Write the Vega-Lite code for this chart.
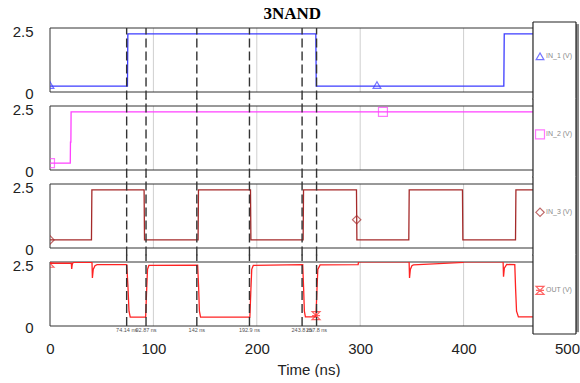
{
"$schema":"https://vega.github.io/schema/vega-lite/v6.json",
"background":"white",
"padding":{"left":5,"top":5,"right":0,"bottom":0},
"title":{"text":"3NAND","font":"Liberation Serif","fontSize":17,"fontWeight":"bold","color":"#000","anchor":"middle","offset":-2},
"config":{"view":{"stroke":null},"font":"Liberation Sans"},
"spacing":14,
"bounds":"flush",
"datasets":{
"grid":[{"t":100},{"t":200},{"t":300},{"t":400}],
"cursors":[{"t":74.14,"label":"74.14 ns"},{"t":92.87,"label":"92.87 ns"},{"t":142,"label":"142 ns"},{"t":192.9,"label":"192.9 ns"},{"t":243.8,"label":"243.8 ns"},{"t":257.8,"label":"257.8 ns"}],
"in1":[{"t":0,"v":0.24},{"t":74.9,"v":0.24},{"t":75.3,"v":2.36},{"t":257.1,"v":2.36},{"t":257.5,"v":0.24},{"t":438.9,"v":0.24},{"t":439.3,"v":2.36},{"t":500,"v":2.36}],
"in2":[{"t":0,"v":0.28},{"t":19.6,"v":0.28},{"t":19.8,"v":1.13},{"t":20.2,"v":1.13},{"t":20.4,"v":2.36},{"t":500,"v":2.36}],
"in3":[{"t":0,"v":0.33},{"t":40.1,"v":0.33},{"t":40.5,"v":2.36},{"t":91,"v":2.36},{"t":91.4,"v":0.33},{"t":143.2,"v":0.33},{"t":143.6,"v":2.36},{"t":193.9,"v":2.36},{"t":194.3,"v":0.33},{"t":244.8,"v":0.33},{"t":245.2,"v":2.36},{"t":296.4,"v":2.36},{"t":296.8,"v":0.33},{"t":347,"v":0.33},{"t":347.4,"v":2.36},{"t":398.9,"v":2.36},{"t":399.3,"v":0.33},{"t":450.2,"v":0.33},{"t":450.6,"v":2.36},{"t":500,"v":2.36}],
"out":[{"t":0,"v":2.55},{"t":20.6,"v":2.55},{"t":21,"v":2.32},{"t":21.5,"v":2.5},{"t":22.5,"v":2.59},{"t":40.6,"v":2.59},{"t":41,"v":1.95},{"t":41.8,"v":2.3},{"t":43.5,"v":2.45},{"t":45.5,"v":2.49},{"t":74.2,"v":2.49},{"t":75.4,"v":1.6},{"t":76.4,"v":0.6},{"t":77.6,"v":0.36},{"t":92.5,"v":0.36},{"t":93.5,"v":1.5},{"t":94.3,"v":2.3},{"t":95.6,"v":2.46},{"t":142.8,"v":2.47},{"t":143.8,"v":1.5},{"t":144.5,"v":0.6},{"t":145.6,"v":0.36},{"t":193.3,"v":0.36},{"t":194.3,"v":1.5},{"t":195.1,"v":2.3},{"t":196.6,"v":2.46},{"t":244.4,"v":2.49},{"t":245.3,"v":1.5},{"t":246,"v":0.6},{"t":247,"v":0.37},{"t":257.2,"v":0.37},{"t":258.2,"v":1.5},{"t":259,"v":2.3},{"t":261.2,"v":2.48},{"t":298,"v":2.49},{"t":298.4,"v":2.61},{"t":347.3,"v":2.61},{"t":347.7,"v":1.95},{"t":348.5,"v":2.3},{"t":350,"v":2.45},{"t":351.5,"v":2.48},{"t":399.5,"v":2.58},{"t":399.9,"v":2.61},{"t":438.2,"v":2.61},{"t":438.6,"v":2.0},{"t":439.4,"v":2.35},{"t":441.7,"v":2.5},{"t":449.5,"v":2.49},{"t":450.3,"v":1.5},{"t":451.2,"v":0.6},{"t":453,"v":0.37},{"t":500,"v":0.37}]
},
"vconcat":[
{"width":517,"height":64,"layer":[
 {"data":{"name":"grid"},"mark":{"type":"rule","color":"#cfcfcf","strokeWidth":1},"encoding":{"x":{"field":"t","type":"quantitative"},"y":{"datum":0,"type":"quantitative"},"y2":{"datum":2.6}}},
 {"data":{"values":[{}]},"mark":{"type":"rect","filled":false,"stroke":"#333","strokeWidth":1},"encoding":{"x":{"datum":0,"type":"quantitative"},"x2":{"datum":500},"y":{"datum":0,"type":"quantitative"},"y2":{"datum":2.6}}},
 {"data":{"name":"in1"},"mark":{"type":"line","color":"#3c3cff","strokeWidth":1.3,"clip":true},"encoding":{"x":{"field":"t","type":"quantitative","scale":{"domain":[0,500],"nice":false,"zero":false},"axis":{"labels":false,"ticks":false,"domain":false,"grid":false,"title":null}},"y":{"field":"v","type":"quantitative","scale":{"domain":[0,2.6],"nice":false,"zero":false},"axis":{"values":[0,2.5],"format":".1~f","title":null,"grid":false,"ticks":false,"domain":false,"labelFontSize":15,"labelColor":"#222","labelPadding":17,"labelOffset":1,"minExtent":45,"maxExtent":45,"labelFont":"Liberation Sans"}}}},
 {"data":{"values":[{"t":0,"v":0.28},{"t":316.2,"v":0.28}]},"mark":{"type":"point","shape":"triangle-up","filled":false,"color":"#3c3cff","size":60,"strokeWidth":1.2,"clip":true},"encoding":{"x":{"field":"t","type":"quantitative"},"y":{"field":"v","type":"quantitative"}}},
 {"data":{"name":"cursors"},"mark":{"type":"rule","color":"#333","strokeWidth":1.4,"strokeDash":[9,4]},"encoding":{"x":{"field":"t","type":"quantitative"},"y":{"datum":-0.3,"type":"quantitative"},"y2":{"datum":2.6}}},
 {"data":{"values":[{}]},"mark":{"type":"rect","color":"#8a8a8a"},"encoding":{"x":{"datum":508.7,"type":"quantitative"},"x2":{"datum":511.6},"y":{"datum":-0.3,"type":"quantitative"},"y2":{"datum":2.76}}},
 {"data":{"values":[{}]},"mark":{"type":"rect","color":"white"},"encoding":{"x":{"datum":467.1,"type":"quantitative"},"x2":{"datum":508.7},"y":{"datum":-0.3,"type":"quantitative"},"y2":{"datum":2.844}}},
 {"data":{"values":[{}]},"mark":{"type":"rule","color":"#222","strokeWidth":1.2},"encoding":{"x":{"datum":467.1,"type":"quantitative"},"y":{"datum":-0.3,"type":"quantitative"},"y2":{"datum":2.844}}},
 {"data":{"values":[{}]},"mark":{"type":"rule","color":"#222","strokeWidth":1.2},"encoding":{"x":{"datum":508.7,"type":"quantitative"},"y":{"datum":-0.3,"type":"quantitative"},"y2":{"datum":2.844}}},
 {"data":{"values":[{}]},"mark":{"type":"rule","color":"#222","strokeWidth":1.2},"encoding":{"x":{"datum":467.1,"type":"quantitative"},"x2":{"datum":508.7},"y":{"datum":2.844,"type":"quantitative"}}},
 {"data":{"values":[{}]},"mark":{"type":"point","shape":"triangle-up","filled":false,"color":"#3c3cff","size":60,"strokeWidth":1.2},"encoding":{"x":{"datum":473.9,"type":"quantitative"},"y":{"datum":1.45,"type":"quantitative"}}},
 {"data":{"values":[{}]},"mark":{"type":"text","text":"IN_1 (V)","align":"left","baseline":"middle","fontSize":7,"color":"#8a8a8a"},"encoding":{"x":{"datum":479.7,"type":"quantitative"},"y":{"datum":1.45,"type":"quantitative"}}}
]},
{"width":517,"height":64,"layer":[
 {"data":{"name":"grid"},"mark":{"type":"rule","color":"#cfcfcf","strokeWidth":1},"encoding":{"x":{"field":"t","type":"quantitative"},"y":{"datum":0,"type":"quantitative"},"y2":{"datum":2.6}}},
 {"data":{"values":[{}]},"mark":{"type":"rect","filled":false,"stroke":"#333","strokeWidth":1},"encoding":{"x":{"datum":0,"type":"quantitative"},"x2":{"datum":500},"y":{"datum":0,"type":"quantitative"},"y2":{"datum":2.6}}},
 {"data":{"name":"in2"},"mark":{"type":"line","color":"#ff40ff","strokeWidth":1.3,"clip":true},"encoding":{"x":{"field":"t","type":"quantitative","scale":{"domain":[0,500],"nice":false,"zero":false},"axis":{"labels":false,"ticks":false,"domain":false,"grid":false,"title":null}},"y":{"field":"v","type":"quantitative","scale":{"domain":[0,2.6],"nice":false,"zero":false},"axis":{"values":[0,2.5],"format":".1~f","title":null,"grid":false,"ticks":false,"domain":false,"labelFontSize":15,"labelColor":"#222","labelPadding":17,"labelOffset":1,"minExtent":45,"maxExtent":45,"labelFont":"Liberation Sans"}}}},
 {"data":{"values":[{"t":0,"v":0.28},{"t":322,"v":2.36}]},"mark":{"type":"point","shape":"square","filled":false,"color":"#ff40ff","size":80,"strokeWidth":1.2,"clip":true},"encoding":{"x":{"field":"t","type":"quantitative"},"y":{"field":"v","type":"quantitative"}}},
 {"data":{"name":"cursors"},"mark":{"type":"rule","color":"#333","strokeWidth":1.4,"strokeDash":[9,4]},"encoding":{"x":{"field":"t","type":"quantitative"},"y":{"datum":-0.3,"type":"quantitative"},"y2":{"datum":2.9}}},
 {"data":{"values":[{}]},"mark":{"type":"rect","color":"#8a8a8a"},"encoding":{"x":{"datum":508.7,"type":"quantitative"},"x2":{"datum":511.6},"y":{"datum":-0.3,"type":"quantitative"},"y2":{"datum":2.9}}},
 {"data":{"values":[{}]},"mark":{"type":"rect","color":"white"},"encoding":{"x":{"datum":467.1,"type":"quantitative"},"x2":{"datum":508.7},"y":{"datum":-0.3,"type":"quantitative"},"y2":{"datum":2.9}}},
 {"data":{"values":[{}]},"mark":{"type":"rule","color":"#222","strokeWidth":1.2},"encoding":{"x":{"datum":467.1,"type":"quantitative"},"y":{"datum":-0.3,"type":"quantitative"},"y2":{"datum":2.9}}},
 {"data":{"values":[{}]},"mark":{"type":"rule","color":"#222","strokeWidth":1.2},"encoding":{"x":{"datum":508.7,"type":"quantitative"},"y":{"datum":-0.3,"type":"quantitative"},"y2":{"datum":2.9}}},
 {"data":{"values":[{}]},"mark":{"type":"point","shape":"square","filled":false,"color":"#ff40ff","size":80,"strokeWidth":1.2},"encoding":{"x":{"datum":473.9,"type":"quantitative"},"y":{"datum":1.45,"type":"quantitative"}}},
 {"data":{"values":[{}]},"mark":{"type":"text","text":"IN_2 (V)","align":"left","baseline":"middle","fontSize":7,"color":"#8a8a8a"},"encoding":{"x":{"datum":479.7,"type":"quantitative"},"y":{"datum":1.45,"type":"quantitative"}}}
]},
{"width":517,"height":64,"layer":[
 {"data":{"name":"grid"},"mark":{"type":"rule","color":"#cfcfcf","strokeWidth":1},"encoding":{"x":{"field":"t","type":"quantitative"},"y":{"datum":0,"type":"quantitative"},"y2":{"datum":2.6}}},
 {"data":{"values":[{}]},"mark":{"type":"rect","filled":false,"stroke":"#333","strokeWidth":1},"encoding":{"x":{"datum":0,"type":"quantitative"},"x2":{"datum":500},"y":{"datum":0,"type":"quantitative"},"y2":{"datum":2.6}}},
 {"data":{"name":"in3"},"mark":{"type":"line","color":"#a52a2a","strokeWidth":1.3,"clip":true},"encoding":{"x":{"field":"t","type":"quantitative","scale":{"domain":[0,500],"nice":false,"zero":false},"axis":{"labels":false,"ticks":false,"domain":false,"grid":false,"title":null}},"y":{"field":"v","type":"quantitative","scale":{"domain":[0,2.6],"nice":false,"zero":false},"axis":{"values":[0,2.5],"format":".1~f","title":null,"grid":false,"ticks":false,"domain":false,"labelFontSize":15,"labelColor":"#222","labelPadding":17,"labelOffset":1,"minExtent":45,"maxExtent":45,"labelFont":"Liberation Sans"}}}},
 {"data":{"values":[{"t":0,"v":0.33},{"t":296.6,"v":1.15}]},"mark":{"type":"point","shape":"diamond","filled":false,"color":"#a52a2a","size":70,"strokeWidth":1.2,"clip":true},"encoding":{"x":{"field":"t","type":"quantitative"},"y":{"field":"v","type":"quantitative"}}},
 {"data":{"name":"cursors"},"mark":{"type":"rule","color":"#333","strokeWidth":1.4,"strokeDash":[9,4]},"encoding":{"x":{"field":"t","type":"quantitative"},"y":{"datum":-0.3,"type":"quantitative"},"y2":{"datum":2.9}}},
 {"data":{"values":[{}]},"mark":{"type":"rect","color":"#8a8a8a"},"encoding":{"x":{"datum":508.7,"type":"quantitative"},"x2":{"datum":511.6},"y":{"datum":-0.3,"type":"quantitative"},"y2":{"datum":2.9}}},
 {"data":{"values":[{}]},"mark":{"type":"rect","color":"white"},"encoding":{"x":{"datum":467.1,"type":"quantitative"},"x2":{"datum":508.7},"y":{"datum":-0.3,"type":"quantitative"},"y2":{"datum":2.9}}},
 {"data":{"values":[{}]},"mark":{"type":"rule","color":"#222","strokeWidth":1.2},"encoding":{"x":{"datum":467.1,"type":"quantitative"},"y":{"datum":-0.3,"type":"quantitative"},"y2":{"datum":2.9}}},
 {"data":{"values":[{}]},"mark":{"type":"rule","color":"#222","strokeWidth":1.2},"encoding":{"x":{"datum":508.7,"type":"quantitative"},"y":{"datum":-0.3,"type":"quantitative"},"y2":{"datum":2.9}}},
 {"data":{"values":[{}]},"mark":{"type":"point","shape":"diamond","filled":false,"color":"#a52a2a","size":70,"strokeWidth":1.2},"encoding":{"x":{"datum":473.9,"type":"quantitative"},"y":{"datum":1.45,"type":"quantitative"}}},
 {"data":{"values":[{}]},"mark":{"type":"text","text":"IN_3 (V)","align":"left","baseline":"middle","fontSize":7,"color":"#8a8a8a"},"encoding":{"x":{"datum":479.7,"type":"quantitative"},"y":{"datum":1.45,"type":"quantitative"}}}
]},
{"width":517,"height":64,"layer":[
 {"data":{"name":"grid"},"mark":{"type":"rule","color":"#cfcfcf","strokeWidth":1},"encoding":{"x":{"field":"t","type":"quantitative"},"y":{"datum":0,"type":"quantitative"},"y2":{"datum":2.6}}},
 {"data":{"values":[{}]},"mark":{"type":"rect","filled":false,"stroke":"#333","strokeWidth":1},"encoding":{"x":{"datum":0,"type":"quantitative"},"x2":{"datum":500},"y":{"datum":0,"type":"quantitative"},"y2":{"datum":2.6}}},
 {"data":{"name":"out"},"mark":{"type":"line","color":"#ff2222","strokeWidth":1.3,"clip":true},"encoding":{"x":{"field":"t","type":"quantitative","scale":{"domain":[0,500],"nice":false,"zero":false},"axis":{"values":[0,100,200,300,400,500],"format":"d","title":"Time (ns)","grid":false,"ticks":false,"domain":false,"labelFontSize":15,"labelColor":"#222","labelPadding":15,"labelFlush":false,"labelOverlap":false,"titleFontSize":15,"titleFontWeight":"normal","titleColor":"#222","titlePadding":6,"labelFont":"Liberation Sans","titleFont":"Liberation Sans"}},"y":{"field":"v","type":"quantitative","scale":{"domain":[0,2.6],"nice":false,"zero":false},"axis":{"values":[0,2.5],"format":".1~f","title":null,"grid":false,"ticks":false,"domain":false,"labelFontSize":15,"labelColor":"#222","labelPadding":17,"labelOffset":1,"minExtent":45,"maxExtent":45,"labelFont":"Liberation Sans"}}}},
 {"data":{"values":[{"t":0,"v":2.55},{"t":257.3,"v":0.42}]},"mark":{"type":"point","shape":"M-1,-1H1L-1,1H1Z M-1,0H1","filled":false,"color":"#ff2222","size":64,"strokeWidth":1.2,"clip":true},"encoding":{"x":{"field":"t","type":"quantitative"},"y":{"field":"v","type":"quantitative"}}},
 {"data":{"name":"cursors"},"mark":{"type":"rule","color":"#333","strokeWidth":1.4,"strokeDash":[9,4]},"encoding":{"x":{"field":"t","type":"quantitative"},"y":{"datum":0,"type":"quantitative"},"y2":{"datum":2.9}}},
 {"data":{"name":"cursors"},"mark":{"type":"text","align":"center","baseline":"middle","fontSize":5.5,"color":"#555"},"encoding":{"x":{"field":"t","type":"quantitative"},"y":{"datum":-0.16,"type":"quantitative"},"text":{"field":"label"}}},
 {"data":{"values":[{}]},"mark":{"type":"rect","color":"#8a8a8a"},"encoding":{"x":{"datum":508.7,"type":"quantitative"},"x2":{"datum":511.6},"y":{"datum":-0.25,"type":"quantitative"},"y2":{"datum":2.9}}},
 {"data":{"values":[{}]},"mark":{"type":"rect","color":"white"},"encoding":{"x":{"datum":467.1,"type":"quantitative"},"x2":{"datum":508.7},"y":{"datum":-0.325,"type":"quantitative"},"y2":{"datum":2.9}}},
 {"data":{"values":[{}]},"mark":{"type":"rule","color":"#222","strokeWidth":1.2},"encoding":{"x":{"datum":467.1,"type":"quantitative"},"y":{"datum":-0.325,"type":"quantitative"},"y2":{"datum":2.9}}},
 {"data":{"values":[{}]},"mark":{"type":"rule","color":"#222","strokeWidth":1.2},"encoding":{"x":{"datum":508.7,"type":"quantitative"},"y":{"datum":-0.325,"type":"quantitative"},"y2":{"datum":2.9}}},
 {"data":{"values":[{}]},"mark":{"type":"rule","color":"#222","strokeWidth":1.2},"encoding":{"x":{"datum":467.1,"type":"quantitative"},"x2":{"datum":508.7},"y":{"datum":-0.325,"type":"quantitative"}}},
 {"data":{"values":[{}]},"mark":{"type":"point","shape":"M-1,-1H1L-1,1H1Z M-1,0H1","filled":false,"color":"#ff2222","size":64,"strokeWidth":1.2},"encoding":{"x":{"datum":473.9,"type":"quantitative"},"y":{"datum":1.45,"type":"quantitative"}}},
 {"data":{"values":[{}]},"mark":{"type":"text","text":"OUT (V)","align":"left","baseline":"middle","fontSize":7,"color":"#8a8a8a"},"encoding":{"x":{"datum":479.7,"type":"quantitative"},"y":{"datum":1.45,"type":"quantitative"}}}
]}
]
}
